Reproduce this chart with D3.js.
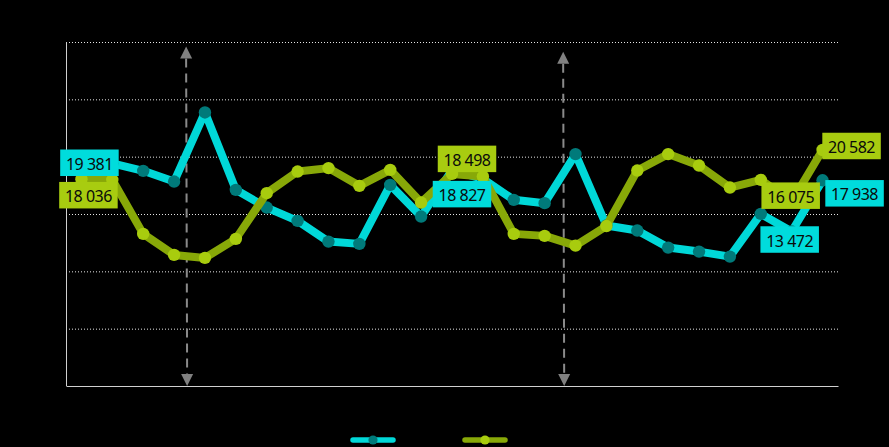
<!DOCTYPE html>
<html><head><meta charset="utf-8">
<script src="https://cdn.jsdelivr.net/npm/d3@7"></script>
<style>html,body{margin:0;padding:0;background:#000;}svg{display:block;}</style>
</head><body>
<svg id="chart" width="889" height="447"></svg>
<script>
const categories = d3.range(1, 26).map(i => "P" + i);
const seriesNames = ["Series A", "Series B"];
const seriesA = [19381, 19420, 18765, 17830, 23854, 17107, 15562, 14401, 12594, 12394, 17543, 14777, 18827, 18067, 16234, 15946, 20223, 14000, 13555, 12071, 11722, 11285, 15012, 13472, 17938];
const seriesB = [18036, 17980, 13266, 11433, 11172, 12830, 16819, 18704, 19001, 17456, 18852, 15998, 18498, 18270, 13266, 13092, 12245, 13950, 18791, 20223, 19228, 17308, 17980, 16075, 20582];
const yTicks = [0, 5000, 10000, 15000, 20000, 25000, 30000];
const eventPositions = [3.39, 15.6];
const eventTops = [29600, 29150];
const labeledA = [0, 12, 23, 24];
const labeledB = [0, 12, 23, 24];

const W = 889, H = 447;
const m = {l: 66, r: 51, t: 42, b: 61};
const svg = d3.select("#chart");
svg.append("rect").attr("width", W).attr("height", H).attr("fill", "#000");

const x = d3.scalePoint().domain(categories).range([m.l, W - m.r]).padding(0.5);
const xi = d3.scaleLinear().domain([0, categories.length - 1]).range([x(categories[0]), x(categories[categories.length - 1])]);
const y = d3.scaleLinear().domain([0, 30000]).range([H - m.b, m.t]);

// gridlines
const yAxis = d3.axisLeft(y).tickValues(yTicks.filter(v => v > 0)).tickSize(-(W - m.l - m.r)).tickFormat("");
const gy = svg.append("g").attr("transform", `translate(${m.l},0)`).call(yAxis);
gy.select(".domain").remove();
gy.selectAll(".tick line").attr("stroke", "#e6e6e6").attr("stroke-width", 1).attr("stroke-dasharray", "1,2");

// axes
svg.append("line").attr("x1", m.l + 0.5).attr("x2", m.l + 0.5).attr("y1", y(30000)).attr("y2", y(0)).attr("stroke", "#d0d0d0").attr("stroke-width", 1);
const xAxis = d3.axisBottom(x).tickSize(0).tickFormat("");
const gx = svg.append("g").attr("transform", `translate(0,${y(0)})`).call(xAxis);
gx.select(".domain").attr("stroke", "#d0d0d0").attr("stroke-width", 1.2);

// event arrows
eventPositions.forEach((p, i) => {
  const g = svg.append("g");
  const xx = xi(p), yt = y(eventTops[i]), yb = y(0);
  g.append("line").attr("x1", xx).attr("x2", xx + 1).attr("y1", yt + 12).attr("y2", yb - 11)
    .attr("stroke", "#8a8a8a").attr("stroke-width", 2).attr("stroke-dasharray", "9,6");
  g.append("path").attr("d", `M${xx},${yt} L${xx - 6},${yt + 12} L${xx + 6},${yt + 12} Z`).attr("fill", "#808080");
  g.append("path").attr("d", `M${xx + 1},${yb} L${xx - 5},${yb - 12} L${xx + 7},${yb - 12} Z`).attr("fill", "#808080");
});

const series = [
  {vals: seriesA, line: "#00d8d8", marker: "#007a7a", label: "#00dcdc", labeled: labeledA},
  {vals: seriesB, line: "#88a808", marker: "#a8cc0e", label: "#a8cc10", labeled: labeledB}
];
const lineGen = d3.line().x((d, i) => x(categories[i])).y(d => y(d));

series.forEach(s => {
  svg.append("path").datum(s.vals).attr("d", lineGen).attr("fill", "none")
    .attr("stroke", s.line).attr("stroke-width", 8).attr("stroke-linejoin", "round");
  svg.selectAll(null).data(s.vals).enter().append("circle")
    .attr("cx", (d, i) => x(categories[i])).attr("cy", d => y(d)).attr("r", 6.2).attr("fill", s.marker);
});

// labels
const fmt = v => d3.format(",")(v).replace(",", " ");
const labelOffsets = {
  0: [[8, -1], [10, 24], [-2, 8], [32, 13]],
  1: [[7, 16], [15, -15], [-1, -6], [29, -4]]
};
series.forEach((s, si) => {
  s.labeled.forEach((idx, k) => {
    const off = labelOffsets[si][k];
    const cx = x(categories[idx]) + off[0], cy = y(s.vals[idx]) + off[1];
    const g = svg.append("g");
    const bw = 58.5, bh = 26.5;
    g.append("rect").attr("x", cx - bw / 2).attr("y", cy - bh / 2).attr("width", bw).attr("height", bh).attr("fill", s.label);
    g.append("text").attr("x", cx).attr("y", cy + 1).attr("text-anchor", "middle").attr("dominant-baseline", "central")
      .attr("font-family", "'Noto Sans', sans-serif").attr("font-size", 16).attr("letter-spacing", -0.5)
      .attr("fill", "#0a0a0a").text(fmt(s.vals[idx]));
  });
});

// legend
const legendX = [373, 485];
series.forEach((s, i) => {
  const g = svg.append("g");
  g.append("line").attr("x1", legendX[i] - 20).attr("x2", legendX[i] + 20).attr("y1", 440).attr("y2", 440)
    .attr("stroke", s.line).attr("stroke-width", 5.5).attr("stroke-linecap", "round");
  g.append("circle").attr("cx", legendX[i]).attr("cy", 440).attr("r", 4.6).attr("fill", s.marker);
  g.append("text").attr("x", legendX[i] + 28).attr("y", 440).attr("dominant-baseline", "central")
    .attr("font-family", "'Noto Sans', sans-serif").attr("font-size", 12).attr("fill", "#000").text(seriesNames[i]);
});
</script>
</body></html>
